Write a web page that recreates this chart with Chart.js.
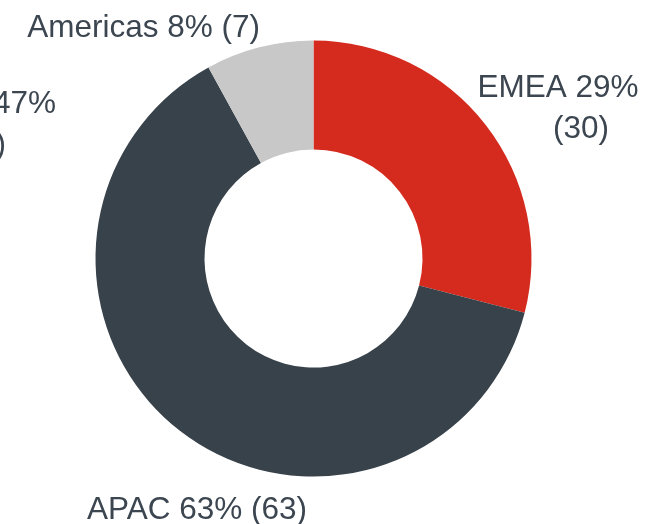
<!DOCTYPE html>
<html>
<head>
<meta charset="utf-8">
<script src="https://cdn.jsdelivr.net/npm/chart.js@4/dist/chart.umd.min.js"></script>
<style>
  html, body { margin: 0; padding: 0; background: #fff; }
  #wrap { width: 646px; height: 524px; position: relative; }
</style>
</head>
<body>
<div id="wrap"><canvas id="chart"></canvas></div>
<script>
// データ
const regions  = ['EMEA', 'APAC', 'Americas'];
const shares   = [29, 63, 8];      // 円弧の割合 (%)
const counts   = [30, 63, 7];      // 件数
const colors   = ['#d52b1e', '#38424b', '#c8c8c8'];

const textColor = '#3c4650';
const font = '31.5px "Liberation Sans", Arial, sans-serif';

// ラベルの配置 (テキストの行ごと)
const labelLayout = [
  [{ text: 'EMEA 29%', x: 558, y: 97, align: 'center' },
   { text: '(30)', x: 581, y: 138, align: 'center' }],
  [{ text: 'APAC 63% (63)', x: 87, y: 519, align: 'left' }],
  [{ text: 'Americas 8% (7)', x: 260, y: 37, align: 'right' }]
];

// 隣のグラフからはみ出しているラベル
const strayLabels = [
  { text: '47%', x: 56, y: 113, align: 'right' },
  { text: '(47)', x: 6, y: 154, align: 'right' }
];

const outsideLabels = {
  id: 'outsideLabels',
  afterDraw(chart) {
    const ctx = chart.ctx;
    ctx.save();
    ctx.font = font;
    ctx.fillStyle = textColor;
    ctx.textBaseline = 'alphabetic';
    labelLayout.forEach(lines => {
      lines.forEach(l => {
        ctx.textAlign = l.align;
        ctx.fillText(l.text, l.x, l.y);
      });
    });
    strayLabels.forEach(l => {
      ctx.textAlign = l.align;
      ctx.fillText(l.text, l.x, l.y);
    });
    ctx.restore();
  }
};

new Chart(document.getElementById('chart'), {
  type: 'doughnut',
  data: {
    labels: regions,
    datasets: [{
      data: shares,
      backgroundColor: colors,
      borderWidth: 0
    }]
  },
  options: {
    responsive: true,
    maintainAspectRatio: false,
    animation: false,
    cutout: '50%',
    layout: { padding: { left: 95.5, right: 114.5, top: 40.5, bottom: 47.5 } },
    plugins: {
      legend: { display: false },
      tooltip: { enabled: false }
    }
  },
  plugins: [outsideLabels]
});
</script>
</body>
</html>
